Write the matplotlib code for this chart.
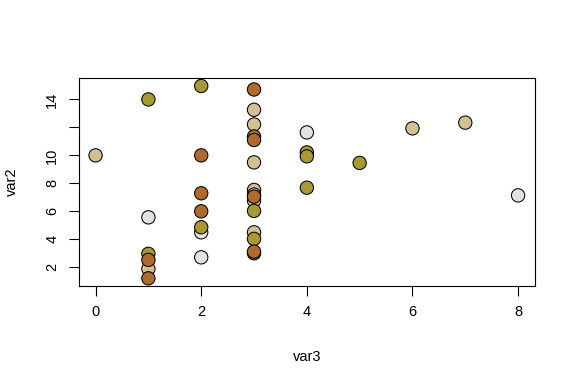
import matplotlib
matplotlib.use("Agg")
import matplotlib.pyplot as plt

plt.rcParams['font.family'] = ['Liberation Sans', 'DejaVu Sans']

BROWN = "#B06A2C"
OLIVE = "#A89A32"
TAN = "#D2C192"
GREY = "#E4E2DF"

var3 = [0, 1, 1, 1, 1, 1, 1,
        2, 2, 2, 2, 2, 2, 2,
        3, 3, 3, 3, 3, 3, 3, 3, 3, 3, 3, 3, 3, 3, 3,
        4, 4, 4, 4, 5, 6, 7, 8]
var2 = [10.0, 14.0, 5.57, 1.89, 2.96, 2.53, 1.21,
        14.96, 10.0, 7.29, 6.0, 4.5, 4.86, 2.71,
        14.71, 13.26, 12.21, 11.35, 11.1, 9.5, 7.53, 7.2, 6.76, 7.05, 6.03, 4.5, 4.03, 3.0, 3.12,
        11.64, 10.21, 9.93, 7.69, 9.46, 11.93, 12.34, 7.14]
groups = ["tan", "olive", "grey", "tan", "olive", "brown", "brown",
          "olive", "brown", "brown", "brown", "grey", "olive", "grey",
          "brown", "tan", "tan", "brown", "brown", "tan", "tan", "tan", "tan", "brown", "olive", "tan", "olive", "brown", "brown",
          "grey", "olive", "olive", "olive", "olive", "tan", "tan", "grey"]
palette = {"brown": BROWN, "olive": OLIVE, "tan": TAN, "grey": GREY}

fig = plt.figure(figsize=(5.76, 3.84), dpi=100)
ax = fig.add_axes([0.1366, 0.2552, 0.7922, 0.5409])
ax.scatter(var3, var2, s=92, c=[palette[g] for g in groups],
           edgecolors="black", linewidths=0.75, zorder=3)

xmin, xmax = min(var3), max(var3)
ymin, ymax = min(var2), max(var2)
rx, ry = xmax - xmin, ymax - ymin
ax.set_xlim(xmin - 0.04 * rx, xmax + 0.04 * rx)
ax.set_ylim(ymin - 0.04 * ry, ymax + 0.04 * ry)

ax.set_xticks([0, 2, 4, 6, 8])
ax.set_yticks([2, 4, 6, 8, 10, 12, 14])
ax.set_yticklabels(["2", "4", "6", "8", "10", "", "14"], rotation=90, va="center")
ax.tick_params(axis="both", length=7, width=0.8, labelsize=10.5, pad=7, direction="out")
for s in ax.spines.values():
    s.set_linewidth(0.8)
ax.set_xlabel("var3", fontsize=10.5, labelpad=22)
ax.set_ylabel("var2", fontsize=10.5, labelpad=19)

fig.savefig("out.png", dpi=100)
